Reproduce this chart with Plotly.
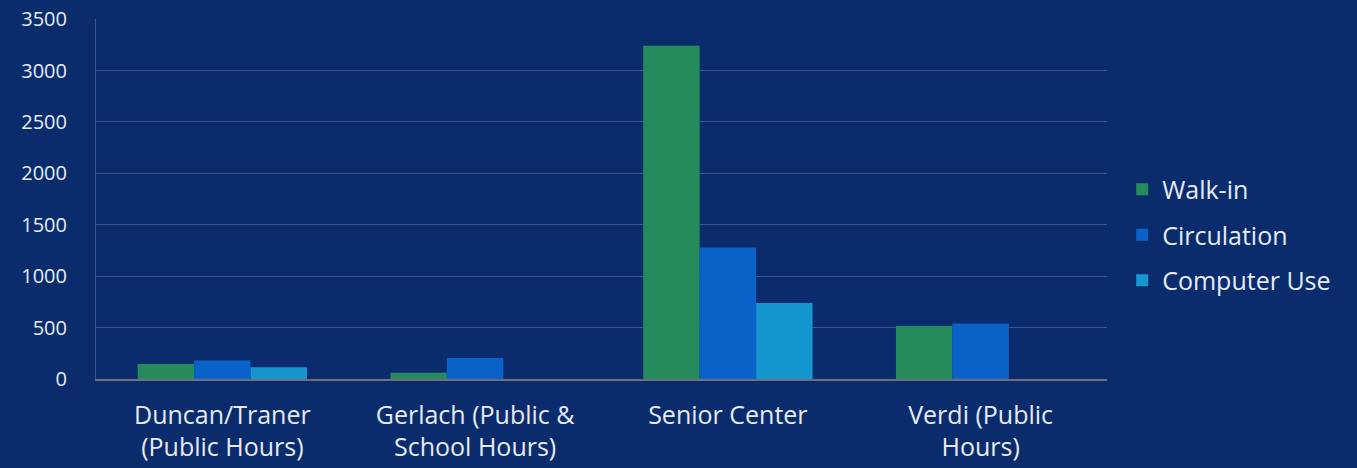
import plotly.graph_objects as go

categories = ["Duncan/Traner<br>(Public Hours)", "Gerlach (Public &<br>School Hours)",
              "Senior Center", "Verdi (Public<br>Hours)"]
walk_in = [145, 60, 3240, 515]
circulation = [180, 205, 1280, 540]
computer_use = [115, 0, 740, 0]
y_ticks = [0, 500, 1000, 1500, 2000, 2500, 3000, 3500]

font_family = "Open Sans"
text_color = "#e6ebf5"

fig = go.Figure()
fig.add_bar(name="Walk-in", x=categories, y=walk_in, marker_color="#258a5c",
            marker_line_width=0, legendgroup="a")
fig.add_bar(name="Circulation", x=categories, y=circulation, marker_color="#0a62c9",
            marker_line_width=0, legendgroup="b")
fig.add_bar(name="Computer Use", x=categories, y=computer_use, marker_color="#1696cf",
            marker_line_width=0, legendgroup="c")

fig.update_layout(
    width=1357, height=468,
    margin=dict(l=96, r=250, t=19, b=89),
    paper_bgcolor="#0a2c6c",
    plot_bgcolor="#0a2c6c",
    barmode="group",
    bargap=0.33,
    bargroupgap=0,
    font=dict(family=font_family, color=text_color, size=22),
    legend=dict(x=1.015, y=0.40, yanchor="middle", xanchor="left",
                font=dict(size=25, color=text_color), tracegroupgap=10,
                bgcolor="rgba(0,0,0,0)"),
    showlegend=True,
)
fig.update_yaxes(range=[0, 3501], tickvals=y_ticks, ticktext=[str(v) for v in y_ticks],
                 showgrid=True, gridcolor="#3e5585", gridwidth=1, zeroline=False,
                 showline=True, linecolor="#3e5585", tickfont=dict(size=20),
                 ticks="", ticklabelstandoff=24, automargin=False)
fig.update_xaxes(showgrid=False, showline=True, linecolor="#6f6f7f", linewidth=1.5,
                 tickfont=dict(size=25), ticks="", ticklabelstandoff=13, automargin=False)

fig.write_html("out.html", config={"displayModeBar": False},
               post_script="document.body.style.margin='0';document.body.style.overflow='hidden';")
